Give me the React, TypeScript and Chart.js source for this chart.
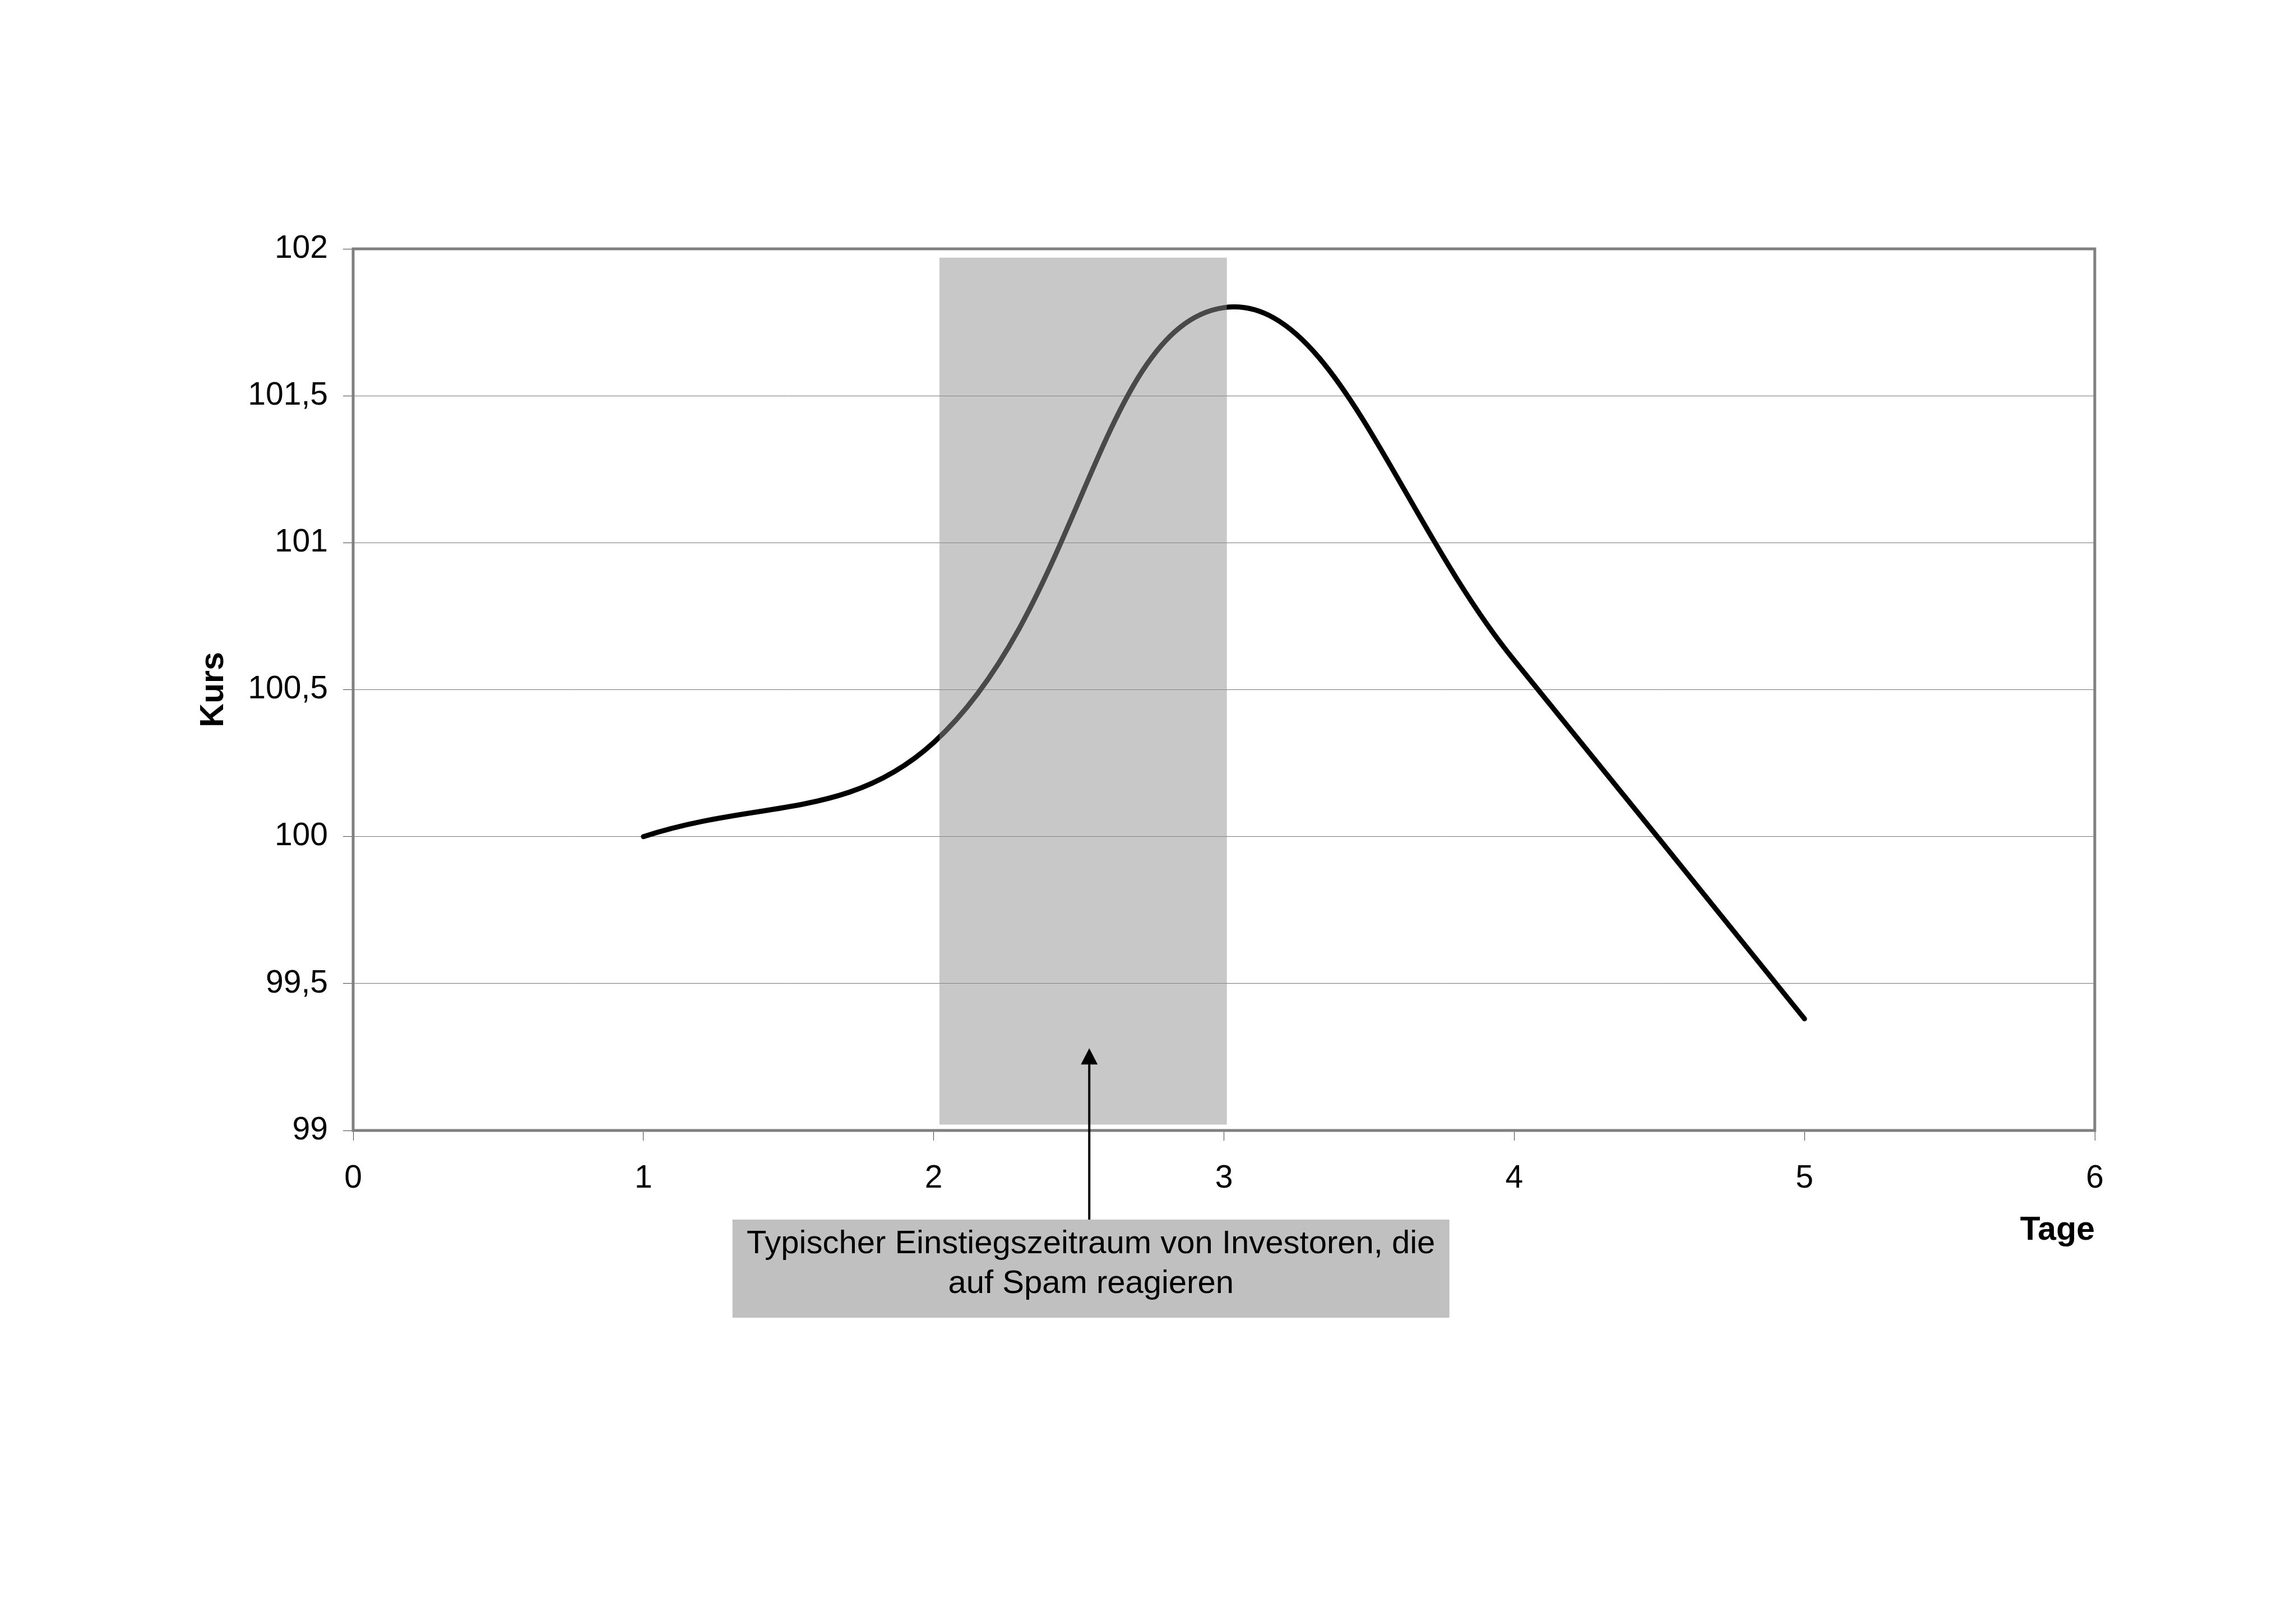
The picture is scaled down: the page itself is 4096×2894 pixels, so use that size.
import React, { useEffect, useRef } from 'react';
import { Chart, registerables } from 'chart.js';

Chart.register(...registerables);

// ---- data ----
const days = [1, 2, 3, 4, 5];
const kurs = [100, 100.32, 101.8, 100.6, 99.38];
const xTickValues = [0, 1, 2, 3, 4, 5, 6];
const yTickValues = [99, 99.5, 100, 100.5, 101, 101.5, 102];
const shadeDays = [2.02, 3.01];
const shadeKurs = [99.02, 101.97];
const arrowTip = [2.536, 99.28];
const noteLines = ['Typischer Einstiegszeitraum von Investoren, die', 'auf Spam reagieren'];
const xTitle = 'Tage';
const yTitle = 'Kurs';

const FONT = '"Liberation Sans", Arial, Helvetica, sans-serif';

const overlayPlugin = {
  id: 'overlay',
  beforeDatasetsDraw(chart: any) {
    const { ctx, chartArea: a } = chart;
    ctx.save();
    ctx.strokeStyle = '#808080';
    ctx.lineWidth = 5;
    ctx.strokeRect(a.left, a.top, a.right - a.left, a.bottom - a.top);
    ctx.restore();
  },
  afterDatasetsDraw(chart: any) {
    const { ctx, chartArea: a, scales } = chart;
    const xs = scales.x;
    const ys = scales.y;
    ctx.save();
    // shaded period
    const x0 = xs.getPixelForValue(shadeDays[0]);
    const x1 = xs.getPixelForValue(shadeDays[1]);
    const y0 = ys.getPixelForValue(shadeKurs[1]);
    const y1 = ys.getPixelForValue(shadeKurs[0]);
    ctx.fillStyle = 'rgba(145,145,145,0.5)';
    ctx.fillRect(x0, y0, x1 - x0, y1 - y0);

    // annotation box
    const ax = xs.getPixelForValue(arrowTip[0]);
    const tipY = ys.getPixelForValue(arrowTip[1]);
    const boxW = 1279;
    const boxH = 175;
    const boxTop = a.bottom + 159;
    const boxCx = ax + 3;
    const bx = boxCx - boxW / 2;
    ctx.fillStyle = '#c0c0c0';
    ctx.fillRect(bx, boxTop, boxW, boxH);

    // arrow
    ctx.strokeStyle = '#000';
    ctx.fillStyle = '#000';
    ctx.lineWidth = 4;
    ctx.beginPath();
    ctx.moveTo(ax, boxTop);
    ctx.lineTo(ax, tipY + 24);
    ctx.stroke();
    ctx.beginPath();
    ctx.moveTo(ax, tipY);
    ctx.lineTo(ax - 15, tipY + 29);
    ctx.lineTo(ax + 15, tipY + 29);
    ctx.closePath();
    ctx.fill();

    // note text
    ctx.font = `58px ${FONT}`;
    ctx.textAlign = 'center';
    ctx.textBaseline = 'alphabetic';
    ctx.fillText(noteLines[0], boxCx, boxTop + 60);
    ctx.fillText(noteLines[1], boxCx, boxTop + 131);
    ctx.restore();
  },
};

export default function App() {
  const ref = useRef<HTMLCanvasElement | null>(null);

  useEffect(() => {
    if (!ref.current) return;
    const chart = new Chart(ref.current, {
      type: 'line',
      data: {
        datasets: [
          {
            data: days.map((d, i) => ({ x: d, y: kurs[i] })),
            borderColor: '#000',
            borderWidth: 9,
            borderCapStyle: 'round',
            borderJoinStyle: 'round',
            tension: 0.4,
            pointRadius: 0,
            fill: false,
          },
        ],
      },
      options: {
        animation: false,
        responsive: false,
        devicePixelRatio: 1,
        layout: { padding: { left: 346, top: 444, right: 359, bottom: 663 } },
        plugins: { legend: { display: false }, tooltip: { enabled: false } },
        scales: {
          x: {
            type: 'linear',
            min: 0,
            max: 6,
            afterBuildTicks: (s: any) => {
              s.ticks = xTickValues.map((v) => ({ value: v }));
            },
            afterFit: (s: any) => {
              s.height = 214;
            },
            grid: {
              drawOnChartArea: false,
              drawTicks: true,
              tickLength: 18,
              tickColor: '#444',
              tickWidth: 1,
            },
            border: { display: false },
            ticks: {
              color: '#000',
              font: { family: FONT, size: 57 },
              padding: 34,
              maxRotation: 0,
              autoSkip: false,
              callback: (v: any) => String(v),
            },
            title: {
              display: true,
              text: xTitle,
              align: 'end',
              color: '#000',
              font: { family: FONT, size: 59, weight: 'bold' },
              padding: 0,
            },
          },
          y: {
            type: 'linear',
            min: 99,
            max: 102,
            afterBuildTicks: (s: any) => {
              s.ticks = yTickValues.map((v) => ({ value: v }));
            },
            afterFit: (s: any) => {
              s.width = 284;
            },
            grid: {
              color: '#777',
              lineWidth: 1,
              drawTicks: true,
              tickLength: 18,
              tickColor: '#444',
              tickWidth: 1,
            },
            border: { display: false },
            ticks: {
              color: '#000',
              font: { family: FONT, size: 57 },
              padding: 27,
              autoSkip: false,
              callback: (v: any) => String(v).replace('.', ','),
            },
            title: {
              display: true,
              text: yTitle,
              color: '#000',
              font: { family: FONT, size: 59, weight: 'bold' },
              padding: 0,
            },
          },
        },
      } as any,
      plugins: [overlayPlugin],
    });
    return () => chart.destroy();
  }, []);

  return (
    <div
      style={{
        position: 'fixed',
        left: 0,
        top: 0,
        width: 4096,
        height: 2894,
        background: '#fff',
        overflow: 'hidden',
      }}
    >
      <canvas ref={ref} width={4096} height={2894} style={{ display: 'block', width: 4096, height: 2894 }} />
    </div>
  );
}
